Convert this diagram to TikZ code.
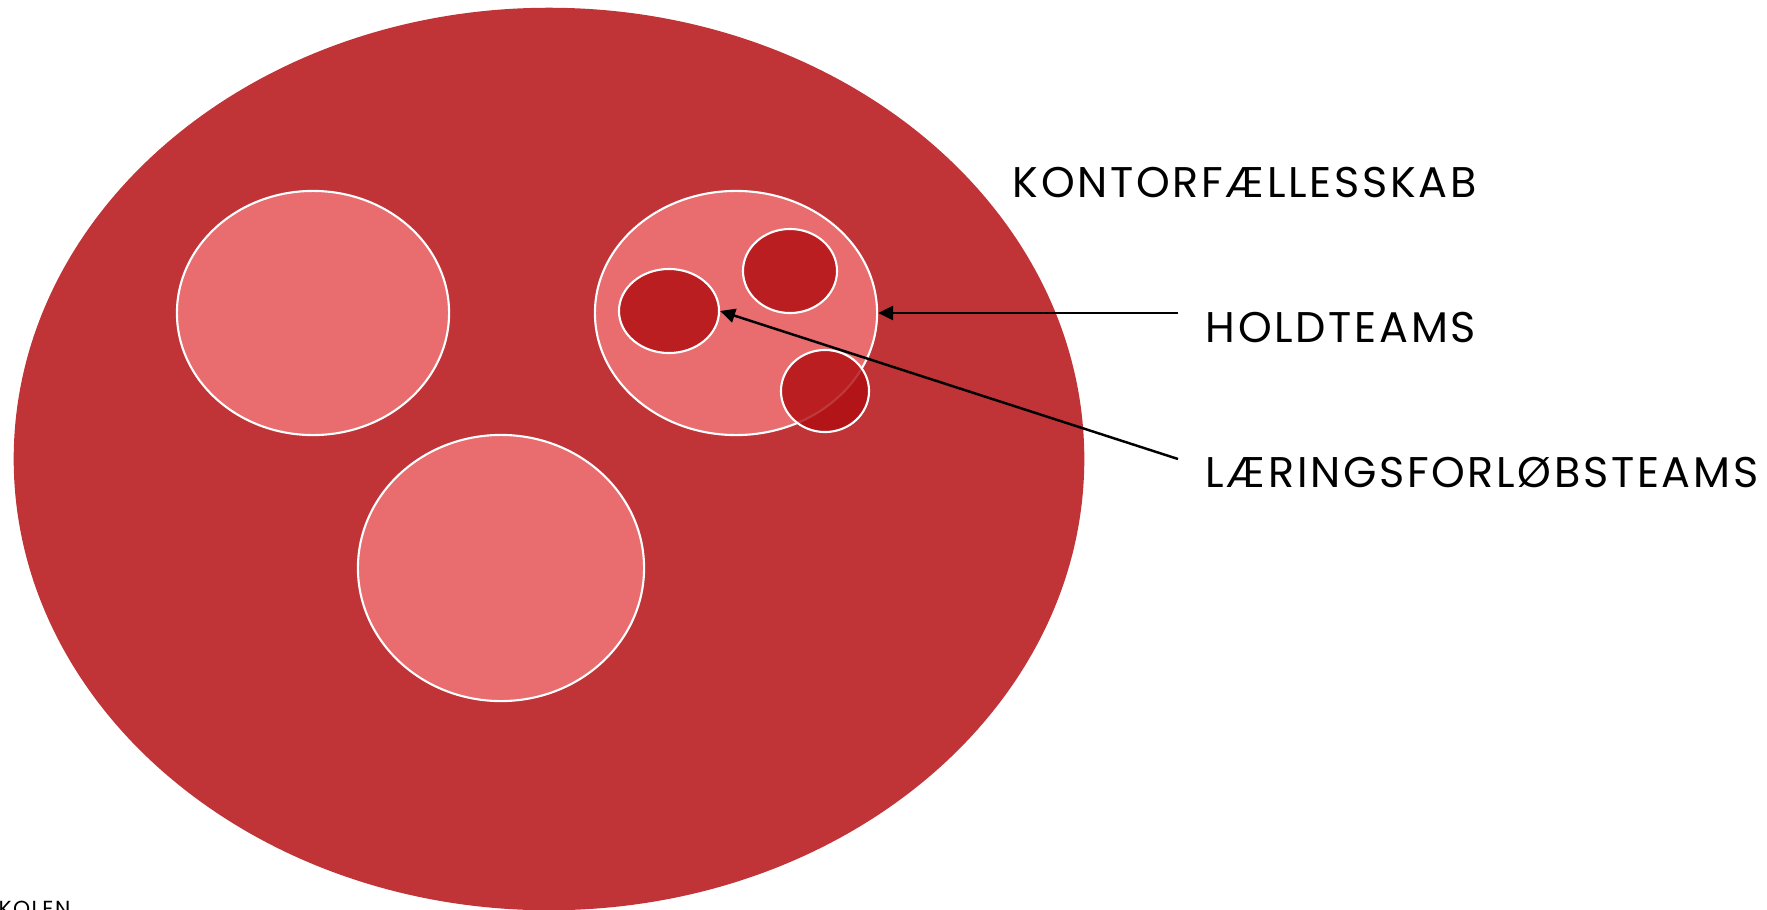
\documentclass[tikz,border=0pt]{standalone}
\usepackage{fontspec}
\setmainfont{Poppins}[LetterSpace=6.3]
\usetikzlibrary{arrows.meta, shapes.geometric}
\definecolor{officered}{RGB}{192,51,55}
\definecolor{holdpink}{RGB}{233,108,111}
\definecolor{lfdark}{RGB}{176,14,16}

\begin{document}
\begin{tikzpicture}[
    x=0.01cm, y=-0.01cm,
    blob/.style={ellipse, inner sep=0pt},
    hold/.style={blob, fill=holdpink, draw=white, line width=0.6pt},
    lf/.style={blob, fill=lfdark, fill opacity=0.82, draw=white,
               draw opacity=1, line width=0.6pt},
    lbl/.style={anchor=base west, inner sep=0pt, font=\fontsize{12.2}{14}\selectfont},
    arr/.style={-{Triangle[length=0.15cm, width=0.14cm]}, line width=0.7pt, black},
]
\useasboundingbox (0,0) rectangle (1767,909);

\node[blob, fill=officered, minimum width=10.70cm, minimum height=9.02cm] (office) at (549,459) {};

\node[hold, minimum width=2.72cm, minimum height=2.44cm] (hold1) at (313,313) {};
\node[hold, minimum width=2.86cm, minimum height=2.66cm] (hold2) at (501,568) {};
\node[hold, minimum width=2.82cm, minimum height=2.44cm] (hold3) at (736,313) {};

\node[lf, minimum width=1.00cm, minimum height=0.84cm] (lf1) at (669,311) {};
\node[lf, minimum width=0.94cm, minimum height=0.84cm] (lf2) at (790,271) {};
\node[lf, minimum width=0.88cm, minimum height=0.82cm] (lf3) at (825,391) {};

\node[lbl] (kontor) at (1012,197) {KONTORFÆLLESSKAB};
\node[lbl] (holdlbl) at (1205,342) {HOLDTEAMS};
\node[lbl] (lflbl) at (1205,487) {LÆRINGSFORLØBSTEAMS};
\node[anchor=base west, inner sep=0pt, font=\fontsize{6.2}{7}\selectfont] (skole) at (-2,916) {KOLEN};

\coordinate (holdend) at (1178,313);
\coordinate (lfend) at (1178,459);
\draw[arr] (holdend) -- (hold3.east);
\draw[arr] (lfend) -- (lf1.east);

\end{tikzpicture}
\end{document}
